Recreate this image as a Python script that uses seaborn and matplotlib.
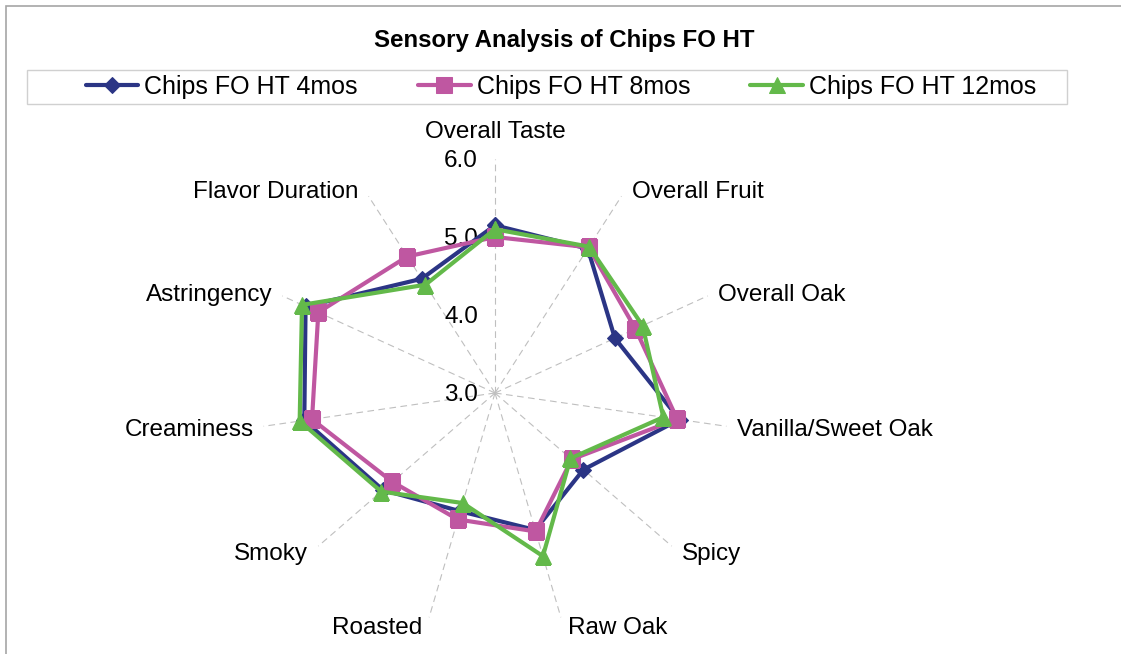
import numpy as np
import pandas as pd
import seaborn as sns
import matplotlib.pyplot as plt
from matplotlib.patches import Rectangle

categories = ['Overall Taste', 'Overall Fruit', 'Overall Oak', 'Vanilla/Sweet Oak',
              'Spicy', 'Raw Oak', 'Roasted', 'Smoky', 'Creaminess',
              'Astringency', 'Flavor Duration']
series_names = ['Chips FO HT 4mos', 'Chips FO HT 8mos', 'Chips FO HT 12mos']
vals_4mos = [5.15, 5.20, 4.69, 5.39, 4.50, 4.83, 4.58, 4.90, 5.47, 5.67, 4.74]
vals_8mos = [5.00, 5.22, 4.98, 5.36, 4.30, 4.85, 4.69, 4.74, 5.37, 5.49, 5.08]
vals_12mos = [5.10, 5.23, 5.08, 5.18, 4.28, 5.18, 4.47, 4.93, 5.53, 5.72, 4.65]
r_ticks = [3.0, 4.0, 5.0, 6.0]

colors = ['#2B3585', '#BF57A1', '#63B94A']
markers = ['D', 's', '^']

sns.set_style('white')
plt.rcParams['font.family'] = ['Liberation Sans', 'DejaVu Sans']
plt.rcParams['text.color'] = 'black'

n = len(categories)
angles = np.linspace(0, 2 * np.pi, n, endpoint=False)

# long table; first point repeated at 2*pi to close each polygon
rows = []
for name, vals in zip(series_names, [vals_4mos, vals_8mos, vals_12mos]):
    for i in range(n):
        rows.append({'series': name, 'theta': angles[i], 'value': vals[i]})
    rows.append({'series': name, 'theta': 2 * np.pi, 'value': vals[0]})
df = pd.DataFrame(rows)

fig = plt.figure(figsize=(11.21, 6.54), dpi=100)
fig.patches.append(Rectangle((6 / 1121, -0.05), 1.2, 1 - 6 / 654 + 0.05,
                             transform=fig.transFigure, fill=False,
                             edgecolor='#A6A6A6', linewidth=1.2))

ax = fig.add_axes([261 / 1121, 27 / 654, 468 / 1121, 468 / 654], projection='polar')
ax.set_theta_zero_location('N')
ax.set_theta_direction(-1)

for name, col, mk in zip(series_names, colors, markers):
    sub = df[df['series'] == name]
    sns.lineplot(data=sub, x='theta', y='value', ax=ax, color=col, marker=mk,
                 markersize=11 if mk != 'D' else 8, markeredgecolor=col,
                 linewidth=3, sort=False, label=name, zorder=3)

ax.set_ylim(3, 6)
ax.set_xlabel('')
ax.set_ylabel('')
ax.set_xticks(angles)
ax.set_xticklabels([])
ax.set_yticks([])
ax.grid(False)
ax.spines['polar'].set_visible(False)

for a in angles:
    ax.plot([a, a], [3, 6], color='#BFBFBF', linewidth=0.8, linestyle=(0, (6, 4)), zorder=1)

for v in r_ticks:
    ax.annotate(f'{v:.1f}', xy=(0, v), xytext=(-17, -2), textcoords='offset pixels',
                ha='right', va='center', fontsize=17.5, zorder=2)

for a, lab in zip(angles, categories):
    s, c = np.sin(a), np.cos(a)
    if abs(s) < 0.1:
        ha, off = 'center', (0, 27)
    else:
        ha = 'left' if s > 0 else 'right'
        dx = 7 if c < -0.9 else 10
        off = (dx * np.sign(s), 8 * c - 3)
    ax.annotate(lab, xy=(a, 6), xytext=off, textcoords='offset pixels',
                ha=ha, va='center', fontsize=17.5)

ax.get_legend().remove()
handles, labels = ax.get_legend_handles_labels()
fig.patches.append(Rectangle((27 / 1121, 1 - 104 / 654), 1040 / 1121, 34 / 654,
                             transform=fig.transFigure, fill=False,
                             edgecolor='#D0D0D0', linewidth=1))
fig.legend(handles[:3], labels[:3], ncol=3, loc='center',
           bbox_to_anchor=(561 / 1121, 1 - 87 / 654), frameon=False,
           fontsize=18, handlelength=2.1, handletextpad=0.25,
           columnspacing=2.4, borderaxespad=0)

fig.text(564 / 1121, 1 - 40 / 654, 'Sensory Analysis of Chips FO HT',
         ha='center', va='center', fontsize=17.3, fontweight='bold')

fig.savefig('out.png', dpi=100)
